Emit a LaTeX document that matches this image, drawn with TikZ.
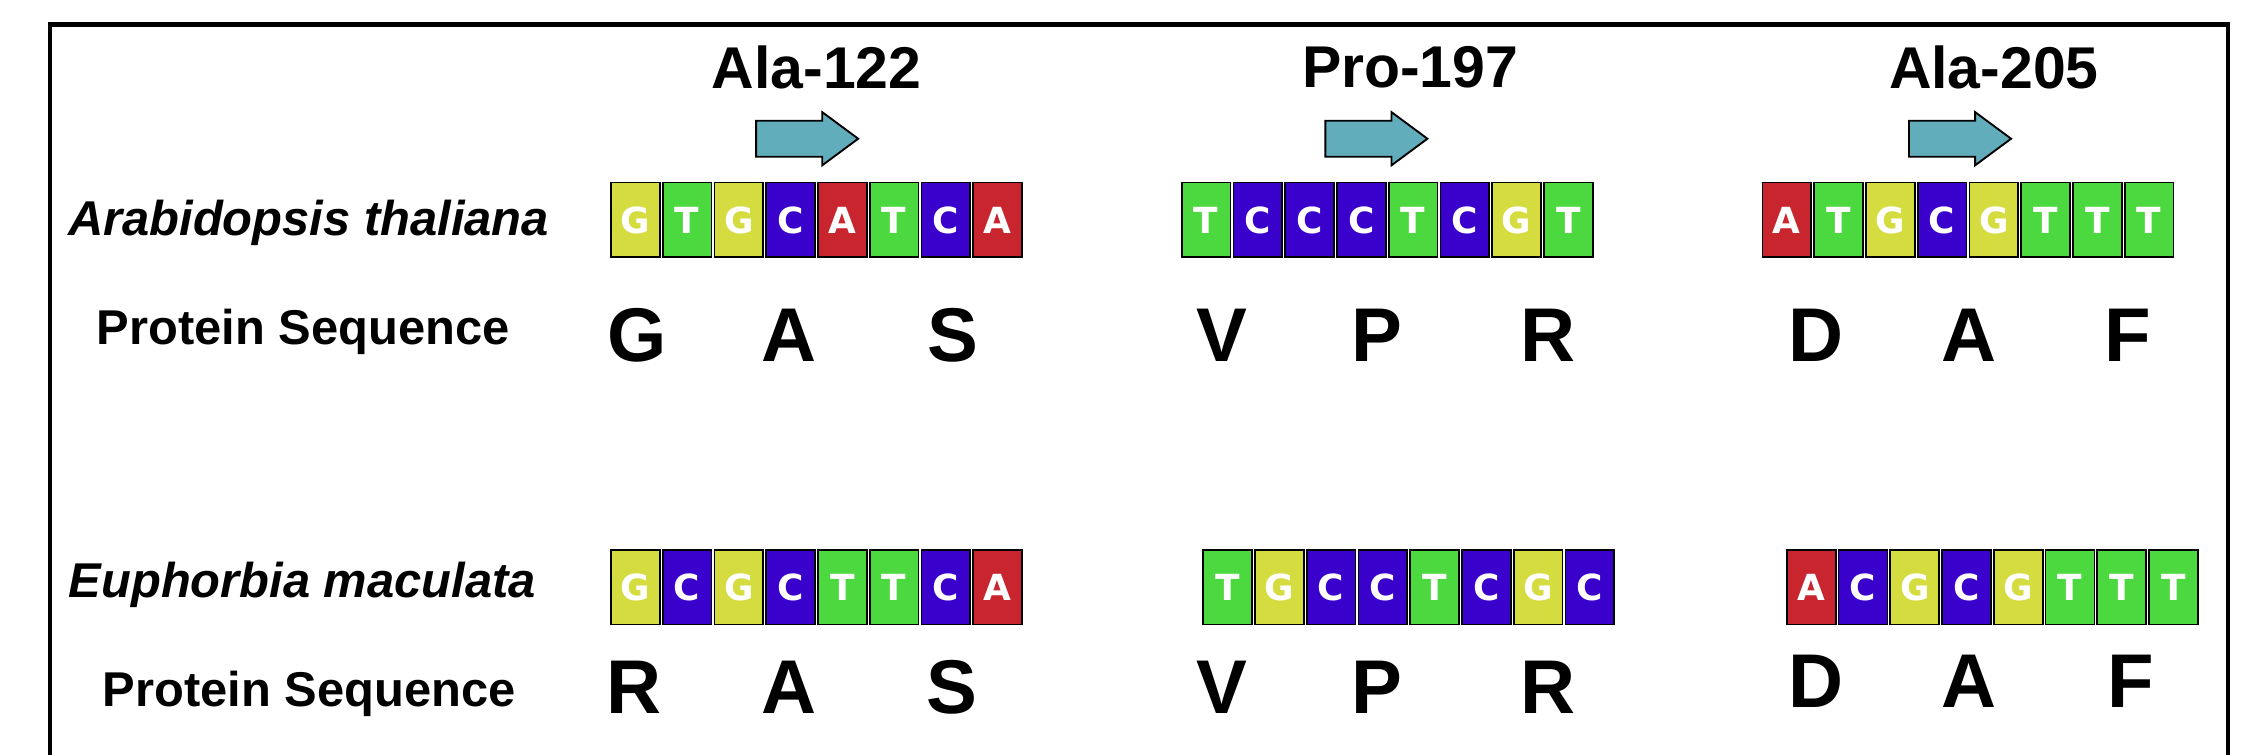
\documentclass[tikz,border=0pt]{standalone}
\usepackage{fontspec}
\setmainfont{Liberation Sans}
\newfontfamily\basefont{DejaVu Sans}
\definecolor{nY}{HTML}{D4DC3F}
\definecolor{nG}{HTML}{4CD93F}
\definecolor{nC}{HTML}{3A00CC}
\definecolor{nA}{HTML}{C9252F}
\definecolor{arr}{HTML}{62ADBB}
\tikzset{
 base/.style={draw=black, line width=1.2pt, minimum width=34pt, minimum height=52pt, inner sep=0pt,
   text=white, font=\basefont\bfseries\fontsize{25}{25}\selectfont},
 bG/.style={base, fill=nY}, bT/.style={base, fill=nG}, bC/.style={base, fill=nC}, bA/.style={base, fill=nA},
 aa/.style={font=\bfseries\fontsize{53}{53}\selectfont, inner sep=0pt},
 lab/.style={font=\bfseries\fontsize{34}{34}\selectfont, inner sep=0pt},
 spec/.style={font=\bfseries\itshape\fontsize{34}{34}\selectfont, inner sep=0pt, anchor=east},
 ttl/.style={font=\bfseries\fontsize{41}{41}\selectfont, inner sep=0pt},
 blk/.style={fill=arr, draw=black, line width=1.3pt, line join=miter}
}
\begin{document}
\begin{tikzpicture}[x=1pt,y=-1pt]
\useasboundingbox (0,0) rectangle (1568,525);
\fill[white] (0,0) rectangle (1568,525);
\draw[line width=3pt] (35,540) -- (35,17) -- (1550,17) -- (1550,540);
% titles
\node[ttl] (t1) at (568,47) {Ala-122};
\node[ttl] (t2) at (981,47) {Pro-197};
\node[ttl] (t3) at (1387,47) {Ala-205};
% block arrows
\foreach \x in {526,922,1328}{
 \draw[blk] (\x,84) -- (\x+46,84) -- (\x+46,78) -- (\x+71,96.5) -- (\x+46,115) -- (\x+46,109) -- (\x,109) -- cycle;
}
% species labels
\node[spec] (s1) at (382,155) {Arabidopsis thaliana};
\node[spec] (s2) at (373,407) {Euphorbia maculata};
\node[lab] (p1) at (211,231) {Protein Sequence};
\node[lab] (p2) at (215,483) {Protein Sequence};
% sequences
\foreach \seq/\x/\y [count=\g] in {{G,T,G,C,A,T,C,A}/424/153, {T,C,C,C,T,C,G,T}/821/153, {A,T,G,C,G,T,T,T}/1225/153,
  {G,C,G,C,T,T,C,A}/424/408.5, {T,G,C,C,T,C,G,C}/836/408.5, {A,C,G,C,G,T,T,T}/1242/408.5}{
  \foreach \ch [count=\k] in \seq {
    \node[b\ch] (n\g-\k) at (\x+18+36*\k-36,\y) {\ch};
  }
}
% amino acids
\foreach \t/\x/\y [count=\i] in {G/443/233, A/549/233, S/663/233, V/850/233, P/958/233, R/1077/233, D/1263/233, A/1370/233, F/1480/233,
  R/441/478, A/549/478, S/662/478, V/850/478, P/958/478, R/1077/478, D/1263/474, A/1370/474, F/1482/474}{
  \node[aa] (a\i) at (\x,\y) {\t};
}
\end{tikzpicture}
\end{document}
